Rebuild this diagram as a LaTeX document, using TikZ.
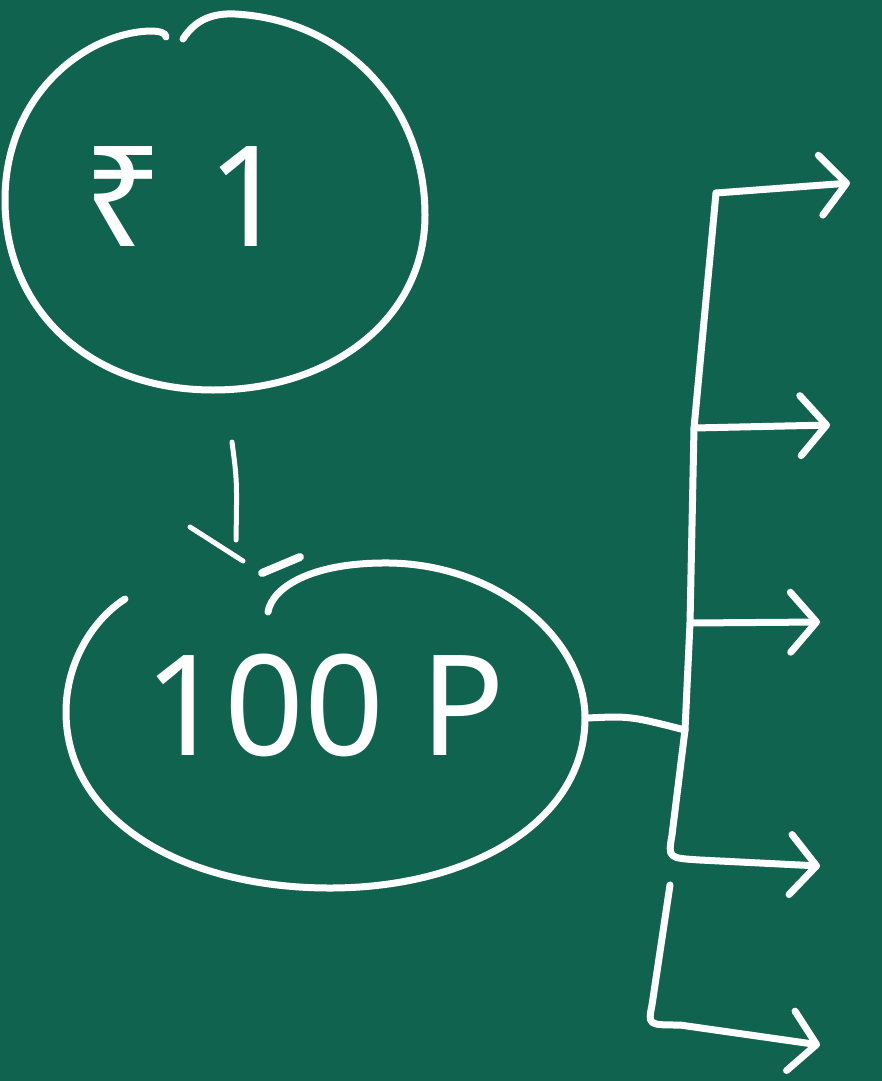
\documentclass[tikz,border=0pt]{standalone}
\usepackage{fontspec}
\setmainfont{Noto Sans}
\usetikzlibrary{arrows.meta}
\definecolor{board}{HTML}{0F634F}
\tikzset{
  chalk/.style={draw=white,line width=7pt,line cap=round,line join=round},
  branch/.style={chalk,-{Straight Barb[length=26pt,width=60pt,round]}},
  lbl/.style={text=white,inner sep=0pt,font=\fontsize{140}{140}\selectfont}
}
\begin{document}
\begin{tikzpicture}[x=1pt,y=-1pt]
\fill[board] (0,0) rectangle (882,1081);
\useasboundingbox (0,0) rectangle (882,1081);
% top circle (hand drawn, notch at the top)
\draw[chalk] (183,39) .. controls (195,20) and (212,13) .. (235,14)
  .. controls (345,20) and (425,105) .. (425,215)
  .. controls (425,320) and (330,390) .. (213,390)
  .. controls (90,390) and (5,310) .. (5,200)
  .. controls (5,95) and (85,33) .. (150,31) .. controls (160,31) and (166,33) .. (166,37);
\node[lbl] (t1) at (186,197) {₹\hspace{44pt}1};
% bottom ellipse with a gap at the top left
\draw[chalk] (268,612) .. controls (272,588) and (310,562) .. (390,563)
  .. controls (500,565) and (585,640) .. (585,718)
  .. controls (585,822) and (470,888) .. (330,888)
  .. controls (180,888) and (66,818) .. (66,712)
  .. controls (66,660) and (95,618) .. (125,599);
\coordinate (pe) at (587,718);
\node[lbl] (t2) at (325,705) {100 P};
% arrow between
\coordinate (a1) at (232,442);
\coordinate (a2) at (236,540);
\coordinate (b1) at (190,527);
\coordinate (b2) at (243,561);
\draw[chalk,line width=5pt] (a1) .. controls (237,480) .. (a2);
\draw[chalk,line width=5pt] (b1) -- (b2);
\coordinate (d1) at (262,573);
\coordinate (d2) at (300,557);
\draw[chalk,line width=8pt] (d1) -- (d2);
% right tree
\coordinate (top) at (716,193);
\coordinate (j2) at (694,428);
\coordinate (j3) at (690,623);
\coordinate (j4) at (685,730);
\coordinate (e1) at (850,183);
\coordinate (e2) at (830,425);
\coordinate (e3) at (820,622);
\coordinate (e4) at (820,866);
\coordinate (s5) at (670,885);
\coordinate (e5) at (820,1045);
\draw[chalk] (pe) .. controls (630,716) .. (j4);
\draw[chalk] (j4) -- (j3) -- (j2) -- (top);
\draw[branch] (top) -- (e1);
\draw[branch] (j2) -- (e2);
\draw[branch] (j3) -- (e3);
\draw[branch] (j4) -- (672,835) .. controls (668,858) .. (700,860) -- (e4);
\draw[branch] (s5) -- (652,1005) .. controls (648,1025) .. (680,1025) -- (e5);
\end{tikzpicture}
\end{document}
